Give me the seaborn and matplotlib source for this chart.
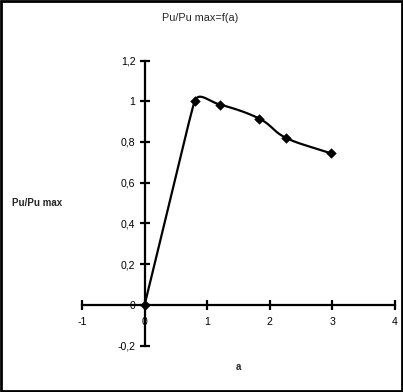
import numpy as np
import seaborn as sns
import matplotlib
matplotlib.use("Agg")
import matplotlib.pyplot as plt
from matplotlib.patches import Rectangle
from matplotlib.ticker import FuncFormatter

# data
a_vals = [0.0, 0.80, 1.20, 1.83, 2.26, 2.97]
pu_ratio = [0.0, 1.0, 0.984, 0.915, 0.82, 0.745]
x_ticks = [-1, 0, 1, 2, 3, 4]
y_ticks = [-0.2, 0.0, 0.2, 0.4, 0.6, 0.8, 1.0, 1.2]

sns.set_style("white")
plt.rcParams["font.family"] = ["Liberation Sans", "DejaVu Sans"]

fig = plt.figure(figsize=(4.03, 3.92), dpi=100)
ax = fig.add_axes([82 / 403, 46.3 / 392, 313 / 403, 285.2 / 392])
ax.set_xlim(-1, 4)
ax.set_ylim(-0.2, 1.2)
ax.patch.set_alpha(0)


def smooth_curve(ax, xs, ys, tension=0.5, n=40):
    # smoothed line (Excel style), computed in display space
    pts = ax.transData.transform(np.column_stack([xs, ys]))
    m = len(pts)
    tang = []
    for i in range(m):
        pa = pts[max(i - 1, 0)]
        pb = pts[min(i + 1, m - 1)]
        da = np.linalg.norm(pts[i] - pa)
        db = np.linalg.norm(pb - pts[i])
        d = (pb - pa) / np.linalg.norm(pb - pa)
        lim = min(da, db) if min(da, db) > 0 else max(da, db)
        tang.append(d * lim * tension)
    out = [pts[0]]
    for i in range(m - 1):
        p1, p2 = pts[i], pts[i + 1]
        c1 = p1 + tang[i] * 0.9
        c2 = p2 - tang[i + 1] * 0.9
        t = np.linspace(0, 1, n)[1:, None]
        seg = ((1 - t) ** 3) * p1 + 3 * ((1 - t) ** 2) * t * c1 + 3 * (1 - t) * t ** 2 * c2 + t ** 3 * p2
        out.extend(seg)
    out = ax.transData.inverted().transform(np.array(out))
    return out[:, 0], out[:, 1]


sx, sy = smooth_curve(ax, a_vals, pu_ratio)
sns.lineplot(x=sx, y=sy, sort=False, estimator=None, color="black", linewidth=1.6, ax=ax)
sns.scatterplot(x=a_vals, y=pu_ratio, marker="D", s=24, color="black", edgecolor="black", ax=ax, zorder=5)

# axes crossing at zero
for side in ["top", "right"]:
    ax.spines[side].set_visible(False)
ax.spines["left"].set_position(("data", 0))
ax.spines["bottom"].set_position(("data", 0))
for side in ["left", "bottom"]:
    ax.spines[side].set_linewidth(1.6)
    ax.spines[side].set_color("black")

ax.set_xticks(x_ticks)
ax.set_yticks(y_ticks)
fmt = FuncFormatter(lambda v, p: ("%g" % round(v, 2)).replace(".", ","))
ax.xaxis.set_major_formatter(fmt)
ax.yaxis.set_major_formatter(fmt)
ax.tick_params(axis="both", direction="inout", length=7, width=1.6, color="black",
               labelsize=7.6, labelcolor="black")
ax.tick_params(axis="x", pad=5, bottom=True)
ax.tick_params(axis="y", pad=3, left=True)
ax.set_xlabel("")
ax.set_ylabel("")

fig.text(200 / 403, 1 - 18 / 392, "Pu/Pu max=f(a)", ha="center", va="center", fontsize=7.8)
fig.text(37 / 403, 1 - 203 / 392, "Pu/Pu max", ha="center", va="center", fontsize=7, fontweight="bold")
fig.text(238 / 403, 1 - 367 / 392, "a", ha="center", va="center", fontsize=7, fontweight="bold")

fig.patches.append(Rectangle((0.002, 0.002), 0.995, 0.995, transform=fig.transFigure,
                             fill=False, edgecolor="black", linewidth=2))

fig.savefig("out.png", dpi=100, facecolor="white")
